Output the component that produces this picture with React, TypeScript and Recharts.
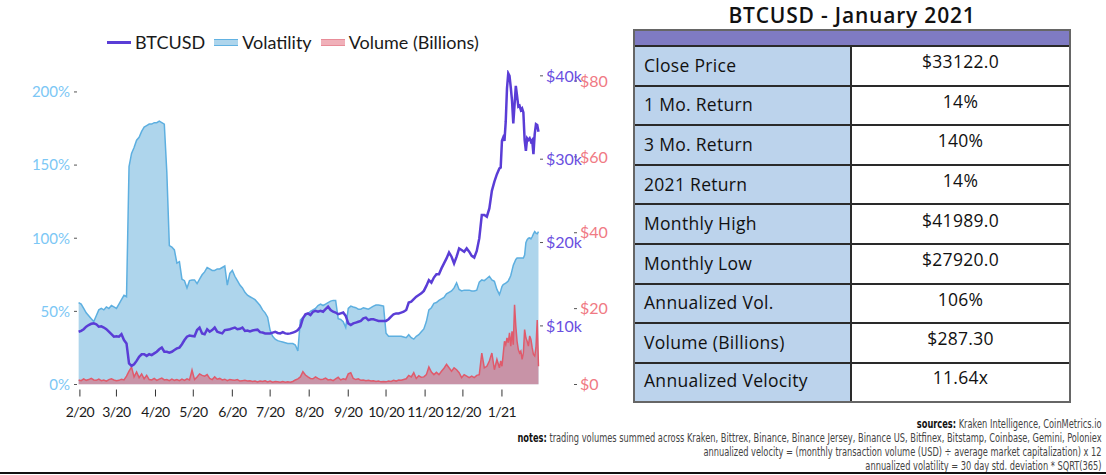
import React from 'react';
import { ComposedChart, Area, Line, XAxis, YAxis } from 'recharts';

// x = days counted from 1 Feb 2020; every 2nd day through Dec 2020, then daily for Jan 2021
const days2020: number[] = Array.from({ length: 168 }, (_, i) => -1 + i * 2);
const daysJan21: number[] = Array.from({ length: 31 }, (_, i) => 334 + i);

// BTCUSD close, thousands of USD
const btc2020 = [
  9.3, 9.4, 9.6, 9.9, 10.1, 10.25, 10.3, 10.2, 9.9, 9.95, 9.8, 9.6, 9.3, 9.0, 8.7, 8.75,
  8.7, 9.0, 8.3, 7.9, 5.5, 5.2, 5.4, 5.8, 6.3, 6.6, 6.6, 6.4, 6.6, 6.5, 6.7,
  6.9, 7.2, 7.4, 6.9, 6.9, 6.8, 6.9, 7.1, 7.3, 7.4, 7.8, 8.3, 8.7, 8.85, 8.8, 8.75,
  9.5, 9.8, 9.1, 9.0, 9.6, 9.3, 9.5, 9.8, 9.3, 9.2, 9.1, 9.5, 9.55, 9.6, 9.7,
  9.8, 9.6, 9.65, 9.8, 9.4, 9.45, 9.35, 9.45, 9.5, 9.55, 9.25, 9.2, 9.1, 9.1,
  9.1, 9.2, 9.3, 9.15, 9.1, 9.25, 9.1, 9.05, 9.1, 9.2, 9.3, 9.5, 9.9, 10.9, 11.4, 11.5, 11.3, 11.7,
  11.8, 11.7, 11.8, 11.7, 12.0, 12.3, 11.9, 11.7, 11.6, 11.4, 11.5, 11.6, 11.2,
  10.3, 10.1, 10.3, 10.4, 10.5, 10.6, 10.9, 11.0, 10.7, 10.8, 10.8, 10.7, 10.6, 10.6, 10.6,
  10.6, 10.8, 11.1, 11.4, 11.5, 11.5, 11.6, 11.7, 11.9, 12.8, 12.9, 13.2, 13.5, 13.7, 13.9, 14.2, 14.8, 15.5, 15.2,
  15.8, 16.2, 16.2, 16.9, 17.5, 18.1, 18.8, 18.3, 17.5, 18.3, 19.3, 19.1, 18.9,
  19.3, 18.9, 18.4, 18.2, 19.0, 20.5, 23.3, 23.3, 23.1, 24.1, 26.2, 27.3, 28.2, 28.9,
];
const btcJan21 = [
  29.0, 32.2, 32.6, 32.2, 34.5, 38.5, 40.3, 40.0, 38.6, 37.0, 34.3, 36.5, 38.8, 37.6, 36.3, 36.4,
  35.9, 36.1, 35.6, 32.3, 31.0, 32.5, 32.3, 32.5, 32.1, 32.3, 30.6, 33.0, 34.2, 34.1, 33.3,
];

// 30 day annualized volatility, %
const volatility2020 = [
  56, 55, 52, 49, 47, 45, 43, 47, 51, 52, 51, 53, 52, 54, 53, 52, 55, 58, 61, 60,
  149, 158, 162, 167, 169, 173, 176, 177, 178, 178, 179, 179, 180, 179, 178, 145,
  95, 94, 92, 83, 84, 72, 71, 66, 71, 71.5, 71.5,
  69, 72, 75, 77, 80, 79, 78, 78, 79, 79, 80, 81, 68, 76, 78, 74, 71, 68, 66, 63,
  61, 60, 59, 58, 56, 54, 51, 49, 46, 37, 33, 31, 30, 29.5, 29, 28.5, 28, 28, 28, 27,
  23, 44, 46, 47, 48.5, 50, 51,
  52, 54, 55, 54, 55, 56, 57, 57.5, 57.5, 45, 44.5, 43, 39, 52, 53.6, 53, 52.5, 51.5, 51.5, 52.5,
  52, 51.5, 52.5, 53.6, 54.3, 54.3, 54, 53.6, 35, 33, 33, 33, 33, 33, 33, 32.5, 32, 34, 32, 31,
  33, 34, 36, 38, 43, 51, 52.5,
  55.5, 56, 57.5, 58.5, 59.5, 62, 63, 64, 66, 69.5, 65, 64, 64.5, 64.5, 64.5, 64, 64, 64.5,
  70, 71.5, 71, 72.5, 74, 71.5, 70.5, 65, 61.5,
];
const volatilityJan21 = [
  64, 67, 68.3, 68.8, 69.3, 70, 70.8, 72.5, 74.5, 78, 81.5, 83.5, 85.5, 86.5, 86.5, 86.5,
  86.5, 86.5, 86.5, 88.5, 97, 99, 100, 100.2, 99.5, 101, 103, 104.5, 103.5, 103, 104.5,
];

// traded volume, billions of USD
const volume2020 = [
  1.2, 1.0, 1.5, 1.1, 1.3, 1.6, 1.2, 1.1, 1.4, 1.0, 1.2, 0.9, 1.3, 1.5, 1.2, 1.0, 1.1, 1.4, 1.2, 2.2,
  3.5, 4.6, 2.0, 3.3, 1.8, 2.8, 1.5, 2.4, 1.3, 1.2, 1.6, 1.1, 1.4, 1.7, 1.2, 1.3, 1.0, 1.4, 1.1, 1.3,
  1.0, 1.4, 1.1, 1.5, 1.2, 3.8, 1.3,
  2.0, 2.8, 2.4, 2.2, 2.6, 1.6, 1.3, 2.0, 1.4, 1.6, 1.2, 1.4, 1.0, 1.3, 1.2, 1.1, 1.3, 0.9, 1.0, 1.1,
  0.9, 1.0, 0.8, 0.9, 0.7, 0.9, 0.8, 1.0, 0.7, 0.9, 0.6, 0.8, 0.7, 0.6, 0.8, 0.6, 0.7, 0.6, 0.8, 1.2,
  1.5, 2.0, 3.4, 2.5, 2.0, 1.6, 1.5,
  2.0, 1.6, 1.3, 1.4, 1.7, 1.2, 1.3, 1.0, 1.5, 1.9, 1.2, 1.5, 1.3, 2.8, 3.1, 1.6, 1.3, 1.5, 1.1, 1.2,
  1.0, 1.1, 0.9, 1.0, 0.8, 0.9, 0.7, 0.8, 0.7, 0.9, 0.8, 1.1, 0.9, 1.2, 1.1, 1.3, 1.5, 2.4, 2.0, 3.1,
  1.6, 2.3, 1.9, 2.0, 2.6, 4.6, 3.3,
  2.6, 3.2, 2.6, 3.5, 4.3, 5.3, 4.4, 3.5, 4.4, 3.9, 3.1, 1.8, 2.6, 2.2, 1.8, 2.2, 1.8, 2.4, 2.6, 8.3,
  4.4, 4.8, 6.2, 8.3, 3.9, 6.6, 4.4,
];
const volumeJan21 = [
  6.2, 4.8, 8.0, 11.4, 10.5, 12.3, 11.0, 13.6, 10.1, 14.0, 10.5, 21.0, 15.4, 11.4, 9.2, 8.3,
  8.8, 6.6, 8.3, 14.5, 12.3, 11.4, 10.1, 12.8, 11.9, 9.7, 7.9, 7.5, 9.7, 17.0, 4.8,
];

const monthTicks = [0, 29, 60, 90, 121, 151, 182, 213, 243, 274, 304, 335];
const monthLabels = ['2/20', '3/20', '4/20', '5/20', '6/20', '7/20', '8/20', '9/20', '10/20', '11/20', '12/20', '1/21'];
const pctTicks = [0, 50, 100, 150, 200];
const btcTicks = [10, 20, 30, 40];
const usdTicks = [0, 20, 40, 60, 80];

const statLabels = [
  'Close Price', '1 Mo. Return', '3 Mo. Return', '2021 Return', 'Monthly High',
  'Monthly Low', 'Annualized Vol.', 'Volume (Billions)', 'Annualized Velocity',
];
const statValues = ['$33122.0', '14%', '140%', '14%', '$41989.0', '$27920.0', '106%', '$287.30', '11.64x'];

const chartData = [
  ...days2020.map((d, i) => ({ d, btc: btc2020[i], vol: volatility2020[i], usd: volume2020[i] })),
  ...daysJan21.map((d, i) => ({ d, btc: btcJan21[i], vol: volatilityJan21[i], usd: volumeJan21[i] })),
];

const MonthTick = (props: any) => {
  const { x, y, payload } = props;
  const idx = monthTicks.indexOf(payload.value);
  return (
    <g>
      <line x1={x} x2={x} y1={y + 5} y2={y + 12} stroke="#333" strokeWidth={1} />
      <text x={x} y={y + 32} textAnchor="middle" fontSize={14} letterSpacing={-0.6} fill="#1b1b1b">
        {monthLabels[idx]}
      </text>
    </g>
  );
};

const Swatch = ({ fill, border, h }: { fill: string; border?: string; h: number }) => (
  <span
    style={{
      display: 'inline-block',
      width: 24,
      height: h,
      background: fill,
      borderTop: border ? `1px solid ${border}` : undefined,
      borderBottom: border ? `1px solid ${border}` : undefined,
      marginRight: 4,
    }}
  />
);

const rowTop = 14;
const rowH = 39.6;

export default function App() {
  return (
    <div
      style={{
        position: 'absolute',
        left: 0,
        top: 0,
        width: 1106,
        height: 475,
        background: '#fff',
        fontFamily: 'Lato, "Open Sans", sans-serif',
        overflow: 'hidden',
      }}
    >
      {/* legend */}
      <div
        style={{
          position: 'absolute',
          left: 107,
          top: 31,
          display: 'flex',
          alignItems: 'center',
          fontSize: 18,
          color: '#1a1a1a',
          whiteSpace: 'nowrap',
        }}
      >
        <Swatch fill="#5A3DD6" h={3} />
        <span style={{ marginRight: 9 }}>BTCUSD</span>
        <Swatch fill="#AED5EC" border="#62B2E2" h={5} />
        <span style={{ marginRight: 9 }}>Volatility</span>
        <Swatch fill="#F0B0B9" border="#E88C98" h={5} />
        <span>Volume (Billions)</span>
      </div>

      <div style={{ position: 'absolute', left: 0, top: 0 }}>
        <ComposedChart width={614} height={430} data={chartData} margin={{ top: 70, right: 0, bottom: 0, left: 0 }}>
          <XAxis
            dataKey="d"
            type="number"
            domain={[-2.3, 365.2]}
            allowDataOverflow
            ticks={monthTicks}
            tick={<MonthTick />}
            tickLine={false}
            axisLine={false}
            tickSize={0}
            tickMargin={0}
            height={45.5}
            interval={0}
          />
          <YAxis
            yAxisId="vol"
            orientation="left"
            type="number"
            domain={[0, 215]}
            allowDataOverflow
            ticks={pctTicks}
            tickFormatter={(v: number) => `${v}%`}
            width={77}
            axisLine={false}
            tickLine={{ stroke: '#555' }}
            tickSize={3}
            tickMargin={4}
            tick={{ fill: '#7CC7F5', fontSize: 15 }}
          />
          <YAxis
            yAxisId="btc"
            orientation="right"
            type="number"
            domain={[2.97, 40.7]}
            allowDataOverflow
            ticks={btcTicks}
            tickFormatter={(v: number) => `$${v}k`}
            width={34}
            axisLine={false}
            tickLine={{ stroke: '#555' }}
            tickSize={3}
            tickMargin={3}
            tick={{ fill: '#6A4FE0', fontSize: 16 }}
          />
          <YAxis
            yAxisId="usd"
            orientation="right"
            type="number"
            domain={[0, 82.9]}
            allowDataOverflow
            ticks={usdTicks}
            tickFormatter={(v: number) => `$${v}`}
            width={40}
            axisLine={false}
            tickLine={{ stroke: '#555' }}
            tickSize={3}
            tickMargin={3}
            tick={{ fill: '#F07A84', fontSize: 16 }}
          />
          <Area
            yAxisId="vol"
            dataKey="vol"
            type="linear"
            stroke="#5DAFE0"
            strokeWidth={1.5}
            fill="#AED5EC"
            fillOpacity={1}
            dot={false}
            activeDot={false}
            isAnimationActive={false}
          />
          <Area
            yAxisId="usd"
            dataKey="usd"
            type="linear"
            stroke="#E05A6B"
            strokeWidth={1.5}
            fill="#D8687A"
            fillOpacity={0.6}
            dot={false}
            activeDot={false}
            isAnimationActive={false}
          />
          <Line
            yAxisId="btc"
            dataKey="btc"
            type="linear"
            stroke="#5A3DD6"
            strokeWidth={2.5}
            dot={false}
            activeDot={false}
            isAnimationActive={false}
          />
        </ComposedChart>
      </div>

      {/* stats table */}
      <div
        style={{
          position: 'absolute',
          left: 634,
          top: 1,
          width: 436,
          textAlign: 'center',
          fontFamily: '"Open Sans", sans-serif',
          fontSize: 21,
          fontWeight: 600,
          letterSpacing: 0.8,
          color: '#111',
        }}
      >
        BTCUSD - January 2021
      </div>
      <div
        style={{
          position: 'absolute',
          left: 633,
          top: 29,
          width: 438,
          height: 374,
          border: '2px solid #666',
          boxSizing: 'border-box',
          fontFamily: '"Open Sans", sans-serif',
        }}
      >
        <div style={{ position: 'absolute', left: 0, top: 0, right: 0, height: rowTop, background: '#7F7BC3' }} />
        {statLabels.map((label, i) => (
          <div
            key={label}
            style={{
              position: 'absolute',
              left: 0,
              right: 0,
              top: rowTop + i * rowH,
              height: i === statLabels.length - 1 ? 374 - 4 - rowTop - i * rowH : rowH + 2,
              borderTop: '2px solid #2a2a2a',
              boxSizing: 'border-box',
              display: 'flex',
              fontSize: 17.5,
              letterSpacing: 0.3,
              color: '#111',
            }}
          >
            <div
              style={{
                width: 217,
                background: '#BCD3EC',
                borderRight: '2px solid #2a2a2a',
                display: 'flex',
                alignItems: 'center',
                paddingLeft: 9,
                paddingBottom: 4,
                boxSizing: 'border-box',
                whiteSpace: 'nowrap',
              }}
            >
              {label}
            </div>
            <div
              style={{
                flex: 1,
                display: 'flex',
                alignItems: 'center',
                justifyContent: 'center',
                paddingBottom: 11,
                boxSizing: 'border-box',
              }}
            >
              {statValues[i]}
            </div>
          </div>
        ))}
      </div>

      {/* notes */}
      <div
        style={{
          position: 'absolute',
          right: 4,
          top: 417,
          textAlign: 'right',
          fontFamily: '"Liberation Sans Narrow", "Arial Narrow", "DejaVu Sans Condensed", sans-serif',
          fontSize: 12,
          lineHeight: '14px',
          color: '#444',
          whiteSpace: 'nowrap',
          transform: 'scaleX(0.765)',
          transformOrigin: 'right top',
        }}
      >
        <div>
          <b style={{ color: '#111' }}>sources:</b> Kraken Intelligence, CoinMetrics.io
        </div>
        <div>
          <b style={{ color: '#111' }}>notes:</b> trading volumes summed across Kraken, Bittrex, Binance, Binance Jersey,
          Binance US, Bitfinex, Bitstamp, Coinbase, Gemini, Poloniex
        </div>
        <div>annualized velocity = (monthly transaction volume (USD) ÷ average market capitalization) x 12</div>
        <div>annualized volatility = 30 day std. deviation * SQRT(365)</div>
      </div>
      <div style={{ position: 'absolute', left: 0, top: 472, width: 1106, height: 2, background: '#111' }} />
    </div>
  );
}
